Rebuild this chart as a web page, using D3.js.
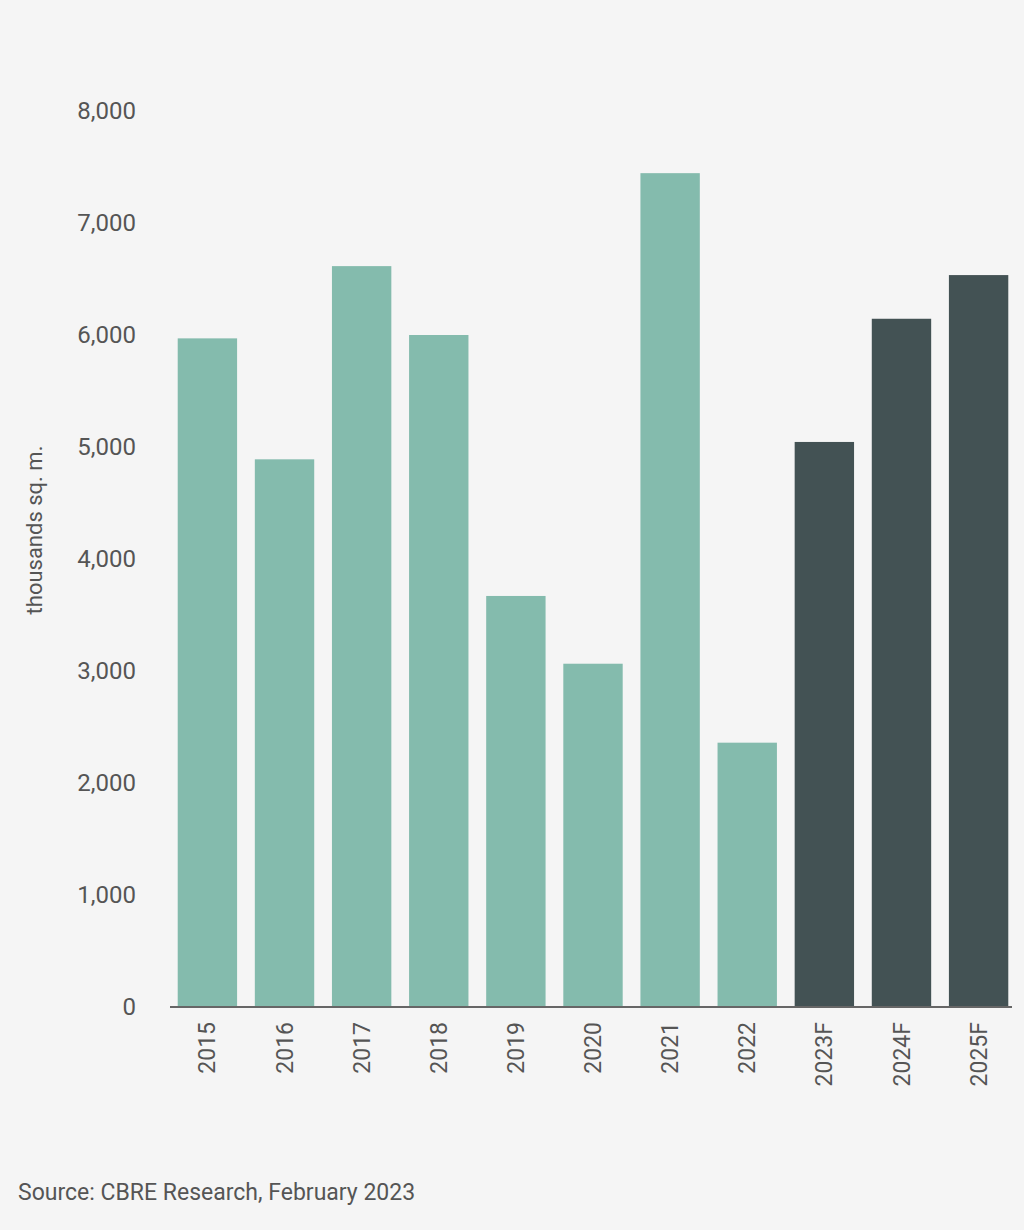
<!DOCTYPE html>
<html><head><meta charset="utf-8">
<script src="https://d3js.org/d3.v7.min.js"></script>
<style>body{margin:0;background:#f5f5f5}</style>
</head><body><svg id="c" width="1024" height="1230"></svg>
<script>
const categories=["2015","2016","2017","2018","2019","2020","2021","2022","2023F","2024F","2025F"];
const values=[5970,4890,6615,6000,3670,3065,7445,2360,5045,6145,6535];
const forecast=[false,false,false,false,false,false,false,false,true,true,true];
const yTicks=[0,1000,2000,3000,4000,5000,6000,7000,8000];
const svg=d3.select("#c");
svg.append("rect").attr("width",1024).attr("height",1230).attr("fill","#f5f5f5");
const x=d3.scaleBand().domain(categories).range([170,1016]).paddingInner(0.23).paddingOuter(0.1);
const y=d3.scaleLinear().domain([0,8000]).range([1007,111]);
const font="Roboto, 'Liberation Sans', sans-serif";
svg.selectAll("rect.bar").data(categories).enter().append("rect")
 .attr("x",d=>x(d)).attr("width",x.bandwidth())
 .attr("y",(d,i)=>y(values[i])).attr("height",(d,i)=>y(0)-y(values[i]))
 .attr("fill",(d,i)=>forecast[i]?"#435254":"#84bbad");
svg.selectAll("text.yt").data(yTicks).enter().append("text")
 .attr("x",136).attr("y",d=>y(d)).attr("dy","0.35em").attr("text-anchor","end")
 .attr("font-family",font).attr("font-size",24).attr("fill","#555").text(d=>d3.format(",")(d));
svg.append("line").attr("x1",170).attr("x2",1012).attr("y1",y(0)).attr("y2",y(0)).attr("stroke","#666").attr("stroke-width",2);
svg.selectAll("text.xt").data(categories).enter().append("text")
 .attr("transform",d=>`translate(${x(d)+x.bandwidth()/2},1022) rotate(-90)`)
 .attr("dy","0.35em").attr("text-anchor","end")
 .attr("font-family",font).attr("font-size",23).attr("fill","#555").text(d=>d);
svg.append("text").attr("transform","translate(34,530) rotate(-90)").attr("dy","0.35em").attr("text-anchor","middle")
 .attr("font-family",font).attr("font-size",22).attr("fill","#555").text("thousands sq. m.");
svg.append("text").attr("x",18).attr("y",1200).attr("font-family",font).attr("font-size",23).attr("fill","#555")
 .text("Source: CBRE Research, February 2023");
</script></body></html>
